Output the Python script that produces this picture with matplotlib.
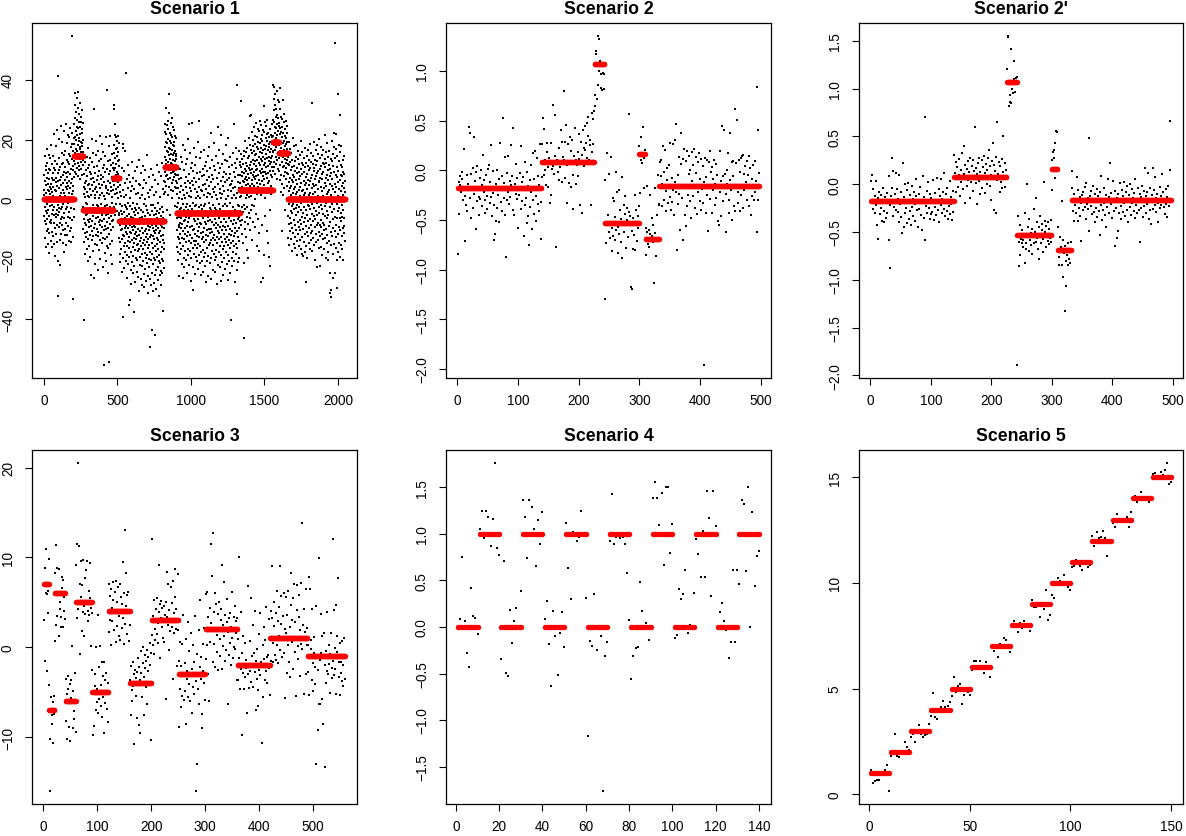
import numpy as np
import matplotlib
matplotlib.use('Agg')
import matplotlib.pyplot as plt

plt.rcParams['font.family'] = ['Liberation Sans', 'DejaVu Sans']

# ---------------- Scenario 1 ----------------
s1_means = [0, 14.64, -3.66, 7.32, -7.32, 10.98, -4.39, 3.29, 19.03, 15.37, 0]
s1_lengths = [205, 62, 205, 40, 308, 82, 430, 225, 41, 61, 389]
s1_y = [
    3.1, -5.4, 8.1, 1.5, -12.9, 6.2, -2.6, 14.5, -7.3, 0.5, 9.8, -15.9, 4.7, -3.9, 11.3, -8.2, 2.3, 16.8, -4.4, -10.6,
    7.2, -1.6, -6.4, 12.3, 5.3, -14.8, 0.3, 3.2, -9.7, 8.9, -3.5, 15.0, -11.2, 2.8, 6.8, -5.4, 10.1, -17.9, 1.7, 4.1,
    -7.6, 13.9, -2.3, 9.9, -13.9, 5.3, -6.7, 0.5, 18.1, -8.0, 3.5, -4.8, 7.2, -16.0, 11.9, -1.7, 2.4, -10.9, 6.4, 14.4,
    -3.5, 8.9, -12.2, 1.3, 4.0, -7.7, 21.8, -5.1, 10.6, -2.4, -15.0, 6.6, 0.2, 9.8, -9.6, 3.2, -19.0, 12.8, -4.9, 5.9,
    2.8, -11.6, 7.2, 17.8, -6.0, 0.3, -3.4, 11.8, -14.2, 4.5, 23.3, -8.4, -32.2, -5.1, 41.1, -1.7, 6.0, -20.6, 8.7, -2.9,
    9.7, -4.1, 13.8, -9.2, 3.8, 20.1, -7.8, 1.2, -21.8, 6.4, -13.5, 10.9, 2.0, -6.4, 24.5, -3.2, 7.6, -11.6, 4.9, 15.6,
    -8.6, 0.2, 11.7, -5.7, 19.2, -2.4, 8.0, -14.6, 3.3, 12.0, -10.3, 5.5, -1.4, 22.7, -6.1, 9.3, -17.4, 2.2, 14.7, -4.4,
    6.5, -9.9, 1.2, 16.3, -12.0, 10.9, -3.3, 4.3, 25.2, -7.7, 0.1, 8.8, -15.3, 13.0, -2.5, 5.4, 18.9, -11.8, 3.6, 7.5,
    -5.8, 12.4, 21.6, -1.1, 9.3, -8.7, 4.4, 15.2, -13.7, 2.2, 11.8, -4.3, 6.1, 20.9, -10.5, 0.6, 14.4, -6.3, 23.8, 3.8,
    8.6, -2.7, 17.4, -9.5, 5.4, 10.2, -14.1, 1.8, 13.6, 22.3, 54.5, -7.0, 6.9, 18.5, -33.1, 4.6, 9.9, -12.5, 16.1, 2.7,
    11.2, -5.8, 20.4, 7.6, -3.3,
    18.6, 25.2, 12.9, 31.4, 9.3, 20.8, 15.5, 27.1, 11.7, 35.6, 17.0, 22.9, 8.4, 29.2, 14.6, 19.9, 24.3, 10.5, 33.7, 16.2,
    21.4, 13.8, 26.5, 7.9, 18.1, 30.6, 12.3, 23.7, 15.2, 36.0, 19.5, 9.8, 25.9, 14.1, 28.4, 11.2, 20.6, 17.5, 32.3, 6.7,
    16.9, 24.1, 13.4, 21.7, 27.6, 10.2, 19.3, 15.8, 26.0, 12.6, 22.2, 18.8, 14.5, 29.9, 8.1, 23.4, 17.7, 20.0, 11.4, 25.5,
    15.9, 13.1,
    -2.4, -9.8, 4.2, -14.3, 1.9, -6.6, 8.5, -40.1, -3.7, 12.4, -11.2, 0.8, 5.6, -7.9, -18.3, 3.5, -1.2, 9.7, -12.6, -5.1,
    6.3, -8.5, 14.1, -4.9, -16.4, 2.6, -10.7, 7.8, -1.5, -13.2, 10.4, -6.9, 1.1, -20.5, 4.8, 17.2, -9.3, -3.1, 11.6, -7.4,
    0.9, -15.6, 5.2, -2.8, 9.1, -11.7, 3.4, -19.2, -6.5, 13.7, -4.1, 8.6, -25.3, 1.5, -8.8, 6.9, -13.6, 20.3, -3.2, -10.4,
    4.7, -7.1, 12.5, -1.8, -17.2, 7.3, -5.6, 2.9, 15.4, -12.1, -2.7, 30.2, -9.5, 5.8, -26.1, -4.3, 10.9, -14.8, 0.4, 3.6,
    -8.2, 8.7, -21.4, 1.6, -6.2, 14.8, -11.9, 4.3, -3.5, 19.6, -15.1, 6.4, -1.9, -9.7, 11.1, -4.6, 2.5, -23.7, 7.7, -12.3,
    -5.9, 16.2, -2.1, -10.8, 9.4, -7.5, 0.6, -16.9, 5.1, -3.8, 12.9, -13.4, 3.7, -6.8, 21.3, -8.6, 1.4, -19.8, 8.2, -4.5,
    -11.3, 6.7, -1.6, 13.5, -9.1, 2.2, -14.7, 18.4, -5.2, 4.9, -7.3, -22.5, 10.6, -2.9, -12.8, 7.4, -4.2, 15.7, -10.1, 1.3,
    -6.4, 11.5, -55.2, -3.6, 5.7, -17.8, 9.2, -8.9, 0.3, -13.1, 14.6, -2.2, -20.7, 4.4, -9.9, 20.8, -5.3, 3.9, -15.5, 36.4,
    2.1, -7.6, 10.3, -12.4, -1.7, 6.2, -4.8, -24.6, 12.7, -9.4, 3.3, -16.1, -54.3, 8.4, -3.4, 17.9, -11.5, 1.7, -6.3, 13.2,
    -14.9, 5.5, -2.6, 9.6, -8.3, 21.1, -5.4, -18.7, 2.7, 11.4, -10.2, 4.1, -1.3, -21.6, 7.5, 15.3, -7.2, 0.7, -13.8, 6.1,
    -3.9, 10.5, -9.2, 3.1, -6.7,
    12.3, 31.6, 4.8, 18.2, -2.5, 30.1, 9.7, 15.4, 1.9, 21.5, 7.3, 13.8, -5.1, 10.6, 25.2, 3.4, 16.7, 8.1, 20.9, -1.4,
    11.8, 6.2, 14.5, 2.3, 19.6, 9.1, -3.7, 17.3, 5.9, 12.8, 21.2, 0.6, 8.4, 15.9, 4.2, 11.1, 18.8, 6.5, 13.3, -4.6,
    -5.3, -12.7, 2.4, -18.1, -8.6, 4.9, -14.2, -1.5, -20.8, -6.4, 7.6, -10.1, -3.9, -16.5, 1.2, -9.8, -24.3, -4.7, 10.5, -13.2,
    -7.8, -2.1, -19.6, 3.3, 18.4, -11.9, -39.2, -6.6, 17.1, -15.4, -8.2, 0.7, -22.9, -4.3, 9.5, -12.1, -17.7, -1.8, -9.4, 5.6,
    -14.5, -6.2, 16.3, -10.8, -2.6, -20.4, 42.1, -8.9, 1.4, -15.7, -5.5, -26.3, -11.4, 6.8, -3.1, -18.6, -7.2, 11.6, -13.9, -1.3,
    -21.5, -9.6, 3.7, -16.2, -4.8, -12.4, 8.3, -35.2, -6.9, -19.3, 0.5, -10.7, -33.4, -2.3, -14.1, 5.9, -8.5, -23.6, -11.1, 2.8,
    -17.4, -5.7, -28.2, -9.1, 12.6, -13.5, -3.3, -20.9, -7.6, 4.5, -15.8, -1.1, -24.7, -10.3, 7.2, -18.9, -6.1, -12.8, -37.5, -4.2,
    3.6, -14.4, -8.7, -22.1, -2.9, -11.6, 9.4, -16.8, -5.2, -27.5, -9.3, 1.8, -13.3, -19.7, -3.5, 6.1, -10.9, -24.2, -7.3, -15.1,
    -1.6, -12.2, 10.7, -20.3, -6.5, -9.9, -25.8, 2.3, -14.9, -4.4, -17.2, 5.3, -11.8, -30.4, -8.1, -2.7, 13.2, -16.6, -6.3, -21.9,
    -10.5, 0.4, -13.7, -19.1, 4.7, -7.4, -26.6, -3.6, -15.5, 8.8, -12.9, -22.3, -5.8, -9.5, 1.5, -18.2, -28.7, -6.8, 11.3, -14.6,
    -4.1, -20.5, -11.3, 3.9, -16.4, -8.3, -24.9, -1.4, -13.6, 6.6, -29.3, -7.7, -17.9, 0.2, -10.4, -23.1, 9.8, -5.6, -15.2, -19.4,
    -2.2, -12.5, -27.1, 5.4, -9.7, -18.5, -6.7, -14.3, 14.9, -21.2, -3.4, -11.5, -25.6, -8.8, 2.1, -16.3, -31.2, -4.6, -13.1, 7.5,
    -19.8, -7.5, -10.2, 0.9, -22.6, -15.3, -5.1, -26.4, 3.2, -12.6, -49.4, -9.2, -17.6, -1.7, -28.5, -6.4, 10.3, -20.1, -11.7, -43.5,
    -14.7, -3.8, -24.4, -8.4, 4.3, -18.3, -12.3, -30.7, -1.9, -16.1, -9.6, 8.2, -21.7, -5.3, -27.9, -13.2, 1.6, -10.6, -19.5, -7.1,
    -25.2, -2.8, -15.6, -11.2, 6.4, -45.1, -20.2, -8.7, -4.9, -17.3, -29.8, -10.1, 2.6, -23.4, -6.2, -14.8, 11.5, -19.2, -3.7, -12.7,
    -26.8, -9.4, -1.2, -16.7, -22.4, 5.2, -13.4, -7.9, -20.6, -32.3, -4.5, -11.3, 9.1, -18.7, -25.1, -6.6, -14.2, 0.8, -21.3, -10.4,
    -3.1, -17.5, -28.4, 7.9, -12.2, -8.5, -23.8, -5.4, 12.3, -15.9, -19.9, -2.4, -9.3, -24.5, -37.2, -6.3, 3.5, -13.5, -20.7, -11.9,
    -4.3, -16.6, 6.3, -9.6, -22.8, 1.7, -7.4, -14.5,
    14.3, 5.8, 22.4, 9.1, 17.6, 2.5, 25.3, 11.9, 19.2, 7.7, 30.4, 13.1, 4.6, 21.8, 16.3, 10.5, 24.7, 8.2, 18.9, -3.4,
    12.6, 26.2, 6.9, 20.3, 15.8, 1.4, 23.5, 11.2, 35.3, 9.7, 17.1, 4.3, 28.8, 14.9, 7.2, 19.5, 13.6, 22.1, -5.2, 16.8,
    10.4, 25.6, 3.3, 18.7, 12.1, 8.9, 21.5, 15.2, 5.4, 27.3, 11.8, 16.5, 0.6, 20.9, 9.2, 14.7, 24.1, 6.4, 13.3, 18.2,
    2.9, 19.1, 11.4, 7.6, 23.2, 15.6, 9.5, 17.9, 4.1, 12.7, 21.3, 8.6, -2.3, 16.1, 10.9, 14.4, 6.1, 20.5, 3.8, 13.5,
    8.3, 15.1,
    -2.6, -10.2, 5.4, -15.8, -6.3, 1.9, -20.1, -4.7, 8.2, -12.5, -1.3, -17.6, 3.8, -8.4, -25.5, 0.6, -13.2, 6.7, -5.9, -9.3,
    10.1, -14.6, -3.2, -7.8, 2.4, -18.3, -11.5, 4.6, -6.1, 14.3, -16.7, -2.9, -9.5, 7.3, -21.4, -5.2, 0.3, -12.8, 12.6, -8.3,
    -26.1, -1.5, -15.4, 3.1, -10.6, 18.2, -4.9, -19.5, 1.6, -7.2, 9.8, -13.3, -3.6, -22.7, 5.5, -11.4, -6.8, 16.5, -17.1, 0.4,
    -9.6, 4.3, -14.2, -2.5, 11.8, -20.3, -5.7, 7.6, -12.1, 2.2, -24.4, -8.9, 13.4, -1.6, -16.5, 6.3, -10.8, -3.4, 20.2, -18.6,
    -7.5, 1.1, 25.1, -13.7, -4.2, 8.5, -21.8, -6.2, 3.7, -11.9, 15.4, -2.3, -17.3, 5.6, -9.2, -27.3, 0.9, -14.5, 10.6, -5.6,
    -19.4, 2.7, -8.8, 12.2, 25.4, -12.7, -3.3, 6.2, -16.1, -30.2, -1.2, 9.5, -10.3, -22.6, 4.8, -6.6, -13.9, 17.3, -4.8, -18.2,
    7.1, -9.7, -2.2, -15.2, 3.5, -24.8, -7.3, 11.4, -11.6, 0.5, -19.1, 5.7, -5.3, -13.8, 14.2, -1.9, -20.7, -8.2, 2.6, -12.3,
    8.7, -16.3, -3.7, 19.1, -10.5, -6.4, -23.2, 1.3, -14.8, 4.1, -2.6, 26.2, -18.4, -9.1, 6.8, -12.6, -4.5, 13.7, -21.3, -7.7,
    0.5, -15.7, 9.2, -11.3, -1.8, -17.5, 3.3, -25.2, -8.3, 15.8, -5.4, -13.1, 2.8, -20.4, 7.7, -3.1, -10.9, 10.2, -16.8, -24.1,
    -6.2, 4.7, -12.4, -2.1, 16.6, -19.3, -9.4, 1.5, -14.1, 8.3, -4.6, -22.2, 11.2, -7.6, -1.4, -17.8, 5.2, -11.7, -27.6, 3.6,
    -8.1, 12.5, -13.5, -3.9, -20.6, 6.5, -10.1, 0.7, -16.2, 9.6, -5.8, -25.7, 2.1, -12.2, 14.6, -7.1, -18.8, 4.4, -1.1, -9.9,
    -15.3, 7.4, -4.3, 17.6, -11.2, -21.1, 1.8, -6.7, 10.4, -14.4, -2.8, -19.6, 5.9, -9.8, 22.3, -13.6, -3.5, -26.5, 8.1, -7.4,
    -17.2, 0.8, -10.7, 13.1, -5.5, -12.9, 3.6, -23.5, -1.7, 6.9, -15.1, -8.6, 11.3, -18.1, -4.4, 2.5, -11.8, 18.7, -20.2, -6.5,
    4.2, -13.4, -2.7, -24.3, 9.7, -9.5, -16.9, 1.4, -7.8, 14.5, -19.2, -3.6, 7.2, -12.5, -28.3, -5.1, 0.2, -14.7, 12.3, -10.6,
    24.2, -8.5, -21.9, 5.3, -4.1, -11.2, 16.4, -17.7, -1.5, 8.7, -13.3, -6.2, 2.3, -22.5, 10.5, -9.3, -15.6, 3.4, -3.2, 21.6,
    -12.6, -7.5, 6.3, -18.5, -27.2, 0.6, -10.2, 11.7, -5.6, -14.3, 1.9, -20.8, 7.6, -2.2, -16.4, 15.1, -8.7, -25.3, 4.5, -11.6,
    -3.8, 9.2, -15.7, -6.4, 2.7, -19.5, 13.3, -9.1, -1.6, -13.2, 5.8, -23.3, -4.9, 8.5, -17.4, -10.3, 18.1, -7.6, 0.3, -14.2,
    -21.7, 6.6, -5.2, 12.8, -12.4, -2.3, -18.6, 3.2, -8.9, 20.4, -15.2, -26.8, 1.2, -11.4, 7.3, -6.1, -20.5, 10.8, -3.7, -13.6,
    4.9, -16.2, -9.8, 14.2, -1.3, -24.6, 8.4, -7.2, -14.6, 2.9, -11.8, -40.3, 5.1, -4.7, -19.4, 11.6, -10.4, 0.5, -22.1, 6.2,
    -13.8, -5.3, 15.5, -8.2, -17.7, 3.8, -2.5, -12.1, 9.3, 25.1, -20.6, -6.7, 1.6, -15.4, 12.2, -9.6, -27.4, 4.3, -3.6, -11.3,
    7.5, -18.2, -7.9, 17.2, 0.4, -14.8, -4.2, 10.6, 38.2, -23.6, -10.5, -31.4, 2.2, -16.3, 13.6, -6.6, -20.9, 5.7, -1.9, -12.4,
    8.1, -9.4, -19.7, 3.7, -5.8, 16.2, -13.7, -2.1, 11.5, -7.3,
    5.4, -3.8, 12.6, 0.7, 8.2, -8.5, 15.3, 3.9, -5.1, 10.8, 1.3, 32.7, -2.6, 7.9, -11.4, 4.2, 13.5, -6.7, 9.1, 2.6,
    -4.3, 11.7, 6.2, -14.5, 3.6, 16.1, -1.8, -46.3, 8.8, -21.2, 5.7, 14.4, -7.6, 2.1, 10.3, -3.3, 19.5, 6.9, -9.7, 12.2,
    0.4, 7.5, -12.6, 4.8, 15.9, 9.4, -5.7, 1.6, 17.3, -2.4, 6.4, 11.1, -16.8, 8.5, 3.2, -19.4, 13.8, 5.1, -8.3, 10.6,
    2.7, 20.4, -4.6, 7.1, 14.6, 0.9, 9.7, -10.2, 18.3, 4.5, 27.8, -6.1, 11.4, 3.7, 16.6, 28.3, 1.2, 8.9, -3.4, 12.5,
    6.6, 22.4, -1.7, 10.2, 15.5, -13.6, 5.3, 19.8, 8.1, 2.4, 13.1, -7.5, 17.7, 9.2, 4.6, 24.3, -2.2, 11.8, 7.4, 16.3,
    14.8, 0.3, 21.2, 6.7, -9.3, 12.7, 18.5, 3.4, 9.9, -4.8, 15.2, 25.6, 7.7, 11.3, -15.5, 20.7, 5.6, 13.2, 1.9, 17.4,
    10.3, 23.6, 4.1, -6.5, 16.8, 8.3, 19.2, 12.1, -11.3, 6.4, 22.8, 2.5, 14.3, -17.2, 9.6, 18.9, 11.6, 26.3, 5.2, 15.7,
    3.1, -27.4, 13.6, 20.3, 8.7, 17.2, 1.5, 24.9, 10.1, -8.6, 15.4, 6.3, 21.6, 12.9, 19.4, -26.2, 7.8, 16.5, 9.3, 23.1,
    14.2, 4.7, 31.3, 11.5, -18.4, 18.1, 6.8, 22.6, 13.4, 0.6, 25.7, 9.1, 16.9, -5.5, 12.3, 20.6, 8.4, 17.8, 3.6, 24.5,
    10.7, 15.1, -10.4, 21.9, 7.3, 13.7, 19.6, 2.1, 26.6, 11.2, 16.4, -14.6, 8.9, 22.2, 5.5, 18.4, 12.8, -19.3, 14.1, 20.8,
    6.2, 17.6, 23.4, 9.5, -3.6, 15.8, 11.9, -22.3, 19.1, 4.4, 13.9, 21.4, 8.2, 16.7, 1.8, 12.4, 25.3, 7.6, 18.6, 10.9,
    14.6, 3.3, 20.7, 9.4, 16.2,
    26.4, 15.7, 38.1, 21.3, 10.8, 33.6, 18.2, 25.9, 37.4, 12.5, 29.7, 22.1, 16.6, 35.2, 8.4, 24.3, 19.8, 31.5, 14.2, 27.6,
    20.4, 11.9, 30.3, 17.5, 23.8, 36.1, 13.3, 28.2, 18.9, 6.7, 25.1, 21.6, 33.2, 15.4, 22.7, 10.2, 27.3, 19.1, 32.6, 14.8, 24.5,
    18.3, 9.6, 25.4, 13.9, 30.2, 6.5, 21.7, 16.1, 37.3, 11.4, 23.8, 2.6, 19.2, 27.5, 14.7, 8.2, 22.6, 17.3, -10.4, 26.8,
    12.5, 20.9, 5.3, 24.2, 15.6, 33.1, 10.7, 18.8, 1.4, 22.3, 14.1, 28.6, 7.9, 19.5, 16.4, 11.2, 25.7, 3.8, 21.1, 13.4,
    17.8, 9.3, 23.5, 15.2, -3.6, 20.6, 12.1, 26.3, 6.8, 18.4, 14.9, 10.5, 22.2, 4.6, 16.7, 19.3, 8.8, 13.1, 24.6, 11.7, 15.5,
    8.4, -5.6, 14.2, -12.7, 2.9, 19.3, -8.1, 5.7, -1.4, 11.6, -15.2, 3.8, 7.3, -10.5, 16.9, 0.2, -6.3, 12.4, -3.7, 4.6,
    -13.1, 9.7, 1.5, -7.8, 15.4, -2.2, 6.6, -17.3, 10.8, -4.5, 13.1, -9.4, 2.3, 20.6, -11.2, 5.9, -1.6, 8.2, -14.8, 11.3,
    3.5, -6.9, 17.7, -3.1, 7.6, -12.4, 0.8, 12.9, -8.6, 4.2, -16.1, 9.5, -2.7, 14.3, -10.2, 1.7, 6.4, -5.3, 18.2, -13.8,
    5.1, -1.9, 10.4, -18.6, 2.5, 8.8, -7.4, 13.6, -4.2, -11.5, 16.3, 0.6, -9.1, 6.7, 11.9, -15.6, 3.2, -2.5, 9.3, -6.8,
    14.7, -10.3, 1.2, 7.9, -13.4, 4.3, -3.5, 19.6, -8.2, 10.1, -1.3, -16.4, 5.6, 12.2, -5.9, 2.8, -12.6, 8.5, -18.2, 15.8,
    -4.6, 3.3, 11.5, -9.9, 0.4, -18.9, 6.1, 13.8, -7.5, 1.6, -14.3, 9.2, -2.4, 17.1, -11.6, 4.8, -6.2, 10.7, -17.4, 2.1,
    7.4, -8.8, -27.6, 12.3, -3.6, 5.5, -15.7, 0.3, 14.6, -10.9, 3.4, -5.1, 8.6, -19.5, 11.2, -1.8, 6.5, -12.3, 16.4, -7.2,
    1.4, 9.8, -14.5, 4.7, -2.1, 13.3, -9.6, 18.4, -6.6, 2.2, -16.7, 10.6, -3.3, 6.2, -11.1, 15.5, 0.7, -8.4, 7.1, -13.5,
    12.6, -4.9, 32.2, 3.9, -10.6, 8.3, -1.5, -17.2, 11.8, 5.2, -7.3, 14.4, -12.8, 1.9, 9.6, -5.4, 19.2, -15.3, 4.4, -2.8,
    10.5, -9.2, 6.8, -20.3, 2.4, 13.2, -6.5, 0.9, 16.6, -11.4, 7.7, -3.8, -14.1, 11.4, 4.9, -8.6, 18.3, -1.2, -22.4, 8.8,
    -5.2, 12.7, 1.1, -13.6, 9.4, -7.7, 15.2, 3.6, -10.8, 6.3, -2.6, 20.1, -16.3, 5.8, -4.4, 10.3, -12.2, 0.5, 13.9, -8.5,
    -22.1, 7.2, -1.7, 11.3, -15.8, 4.1, -6.8, 17.4, -9.3, 2.7, 14.8, -11.5, 8.6, -3.2, -18.4, 6.9, 12.1, -7.8, 1.3, -13.3,
    9.1, -4.7, 16.4, -10.1, 3.7, -16.6, 11.9, 0.1, -8.5, 13.5, -2.3, 21.4, -12.9, 5.4, -5.5, 10.8, -19.7, 7.3, -1.1, 15.9,
    -9.8, 4.5, 12.3, -14.4, 1.8, -6.1, 18.7, -3.9, 8.2, -11.7, 2.6, -17.5, 14.1, -5.3, 9.8, -20.2, 6.4, 0.3, 11.6, -8.9,
    3.2, -13.7, 16.2, -24.5, 7.8, -2.4, -31.3, 10.3, -7.6, 5.2, -30.1, 13.4, -10.7, 1.5, -15.2, 8.7, -32.4, 4.6, -4.1, 12.9,
    -12.3, 19.4, -1.6, 6.7, -18.3, 11.1, -26.2, 3.6, -6.4, 15.3, -9.5, 22.1, 0.6, -14.9, 9.2, -3.3, 17.6, -24.7, 5.3, -10.6,
    13.8, -5.7, 2.4, 52.3, -16.2, 8.1, 21.9, -8.6, 4.3, -12.5, 16.7, -1.4, -20.3, 10.9, -6.2, 7.5, -29.4, 14.6, -3.8, 1.2,
    -11.6, 35.2, 5.9, -17.4, 9.5, -2.7, 18.2, -9.1, 3.4, -14.6, 12.8, -6.3, 6.6, -19.2, 28.1, 0.8, -10.2, 15.7, -4.5, 8.3,
    -15.3, 11.4, 2.9, -7.2, 17.8, -12.1, 4.6, -1.9, 10.7, -16.5, 7.9, -5.8, 13.3, -9.4, 1.6, -20.1, 9.2, -3.6, 5.5, -8.7,
    14.5, -6.3, 3.8, -11.2, 8.6, 0.4, -13.9, 6.2, 2.5,
]

# ---------------- Scenario 2 ----------------
s2_means = [-0.18, 0.08, 1.07, -0.53, 0.16, -0.69, -0.16]
s2_lengths = [138, 87, 17, 57, 10, 23, 165]
s2_y = [
    -0.84, -0.44, -0.12, -0.06, -0.15, -0.22, -0.09, -0.02, -0.3, -0.19, 0.21, -0.71, -0.26, -0.35, -0.05, -0.41, -0.14, -0.2, 0.44, 0.37,
    -0.28, -0.48, -0.04, -0.17, -0.38, 0.02, -0.24, 0.33, -0.11, -0.59, -0.02, -0.31, 0.04, -0.2, -0.27, -0.45, -0.08, -0.29, 0.0, -0.15,
    -0.36, 0.15, -0.22, -0.1, -0.43, -0.3, -0.05, -0.26, -0.39, 0.01, -0.18, 0.05, -0.33, -0.12, 0.25, -0.27, -0.46, -0.01, -0.23, -0.7,
    -0.35, -0.64, -0.14, -0.51, -0.38, 0.0, -0.25, -0.09, -0.52, 0.27, -0.19, -0.32, -0.06, -0.41, 0.53, -0.13, -0.28, -0.45, 0.13, -0.87,
    -0.03, -0.3, 0.14, -0.22, -0.34, -0.11, -0.27, -0.15, 0.25, -0.06, -0.4, 0.43, -0.19, -0.45, -0.14, -0.24, 0.06, -0.29, -0.08, -0.58,
    -0.17, -0.25, -0.03, -0.39, 0.24, -0.12, -0.31, -0.07, -0.66, -0.2, -0.35, 0.08, -0.28, -0.53, -0.02, -0.46, -0.16, -0.75, -0.1, -0.37,
    -0.22, 0.05, -0.59, 0.17, -0.3, -0.09, -0.44, 0.19, -0.26, -0.51, 0.12, -0.34, -0.06, -0.41, -0.15, 0.26, -0.32, -0.69,
    -0.07, 0.26, 0.53, -0.05, 0.42, 0.1, 0.0, -0.15, 0.18, 0.27, -0.17, 0.03, 0.12, -0.33, 0.08, 0.27, -0.25, 0.01, 0.66, 0.04,
    -0.04, 0.56, 0.14, -0.77, 0.09, 0.1, -0.02, 0.06, 0.22, -0.1, 0.03, 0.4, 0.09, -0.12, 0.28, 0.13, 0.8, 0.1, -0.08, 0.28,
    0.46, 0.05, -0.33, 0.26, 0.08, -0.13, 0.33, 0.09, 0.19, -0.17, 0.3, -0.05, -0.39, 0.14, 0.06, 0.43, -0.14, 0.1, 0.05, 0.18,
    -0.06, 0.11, 0.36, -0.35, 0.08, 0.28, -0.43, 0.15, 0.4, 0.22, 0.04, 0.45, 0.2, 0.27, 0.12, 0.48, 0.34, 0.54, 0.1, 0.25,
    0.3, -0.35, 0.58, 0.18, 0.52, 0.26, 0.6,
    0.65, 0.76, 1.17, 1.2, 0.72, 1.35, 0.86, 1.32, 1.0, 1.1, 0.83, 0.97, 0.81, 1.06, 0.98, 0.82, 0.97,
    -0.1, -1.3, -0.73, 0.17, -0.52, -0.45, -0.62, -0.04, -0.55, -0.68, 0.13, -0.58, -0.81, -0.28, -0.66, -0.31, -0.47, -0.7, -0.02, -0.6,
    -0.22, -0.83, -0.57, -0.2, -0.64, -0.4, -0.72, -0.49, -0.07, -0.88, -0.55, -0.35, -0.62, -0.26, -0.44, -0.78, -0.5, -0.38, -0.67, -0.42,
    0.57, -0.55, -0.46, -1.18, -0.61, -1.2, -0.79, -0.48, -0.65, -0.25, -0.8, -0.52, -0.4, -0.71, -0.58, -0.46, -0.36,
    0.24, -0.23, 0.1, 0.33, 0.07, 0.15, 0.44, -0.18, 0.12, 0.2,
    -0.58, -0.85, -0.62, -0.16, -0.74, -0.77, -0.6, -0.64, -0.25, -0.7, -0.48, -0.66, -0.72, -0.55, -1.14, -0.63, -0.18, -0.86, -0.68, -0.45, -0.7, -0.05, -0.35,
    -0.34, 0.08, -0.06, 0.1, -0.36, -0.14, 0.24, -0.02, -0.3, 0.2, -0.21, -0.41, -0.1, 0.02, -0.33, -0.18, 0.05, -0.27, 0.27, -0.4,
    -0.08, -0.32, 0.26, -0.2, -0.45, 0.3, -0.12, 0.47, -0.22, -0.8, -0.05, -0.34, 0.13, -0.24, -0.6, 0.06, 0.37, -0.28, -0.7, 0.11,
    -0.15, 0.21, -0.45, -0.56, 0.09, -0.36, 0.19, -0.25, -0.04, 0.14, -0.31, 0.0, -0.48, 0.18, -0.11, -0.26, 0.05, 0.21, -0.38, -0.17,
    0.13, -0.03, -0.44, 0.08, -0.22, 0.17, -0.31, -0.09, -0.4, 0.11, -0.19, 0.04, -0.33, -1.96, -0.12, 0.12, -0.43, -0.07, 0.1, -0.25,
    -0.61, 0.08, -0.16, 0.19, -0.29, -0.02, -0.43, 0.03, -0.2, -0.09, 0.1, -0.35, -0.14, -0.28, 0.06, -0.05, -0.18, -0.51, -0.55, 0.19,
    -0.22, -0.11, -0.46, 0.45, -0.06, -0.31, 0.4, -0.16, -0.04, -0.62, -0.24, 0.0, -0.14, 0.17, -0.43, -0.3, 0.37, -0.1, -0.2, -0.5,
    0.08, -0.06, 0.09, -0.36, -0.41, 0.62, 0.07, -0.17, 0.51, -0.22, -0.33, 0.1, -0.02, -0.41, 0.12, -0.25, 0.14, -0.38, 0.15, -0.04,
    -0.2, 0.04, -0.17, -0.12, 0.09, -0.3, -0.05, 0.14, -0.36, -0.18, 0.02, -0.45, -0.09, -0.26, 0.05, -0.15, -0.3, 0.09, -0.22, -0.11,
    -0.62, 0.84, 0.4, -0.3, -0.03,
]

# ---------------- Scenario 2' ----------------
s2b_means = [-0.18, 0.08, 1.07, -0.53, 0.16, -0.69, -0.16]
s2b_lengths = [138, 87, 17, 57, 10, 23, 165]
s2b_y = [
    0.03, 0.1, -0.16, -0.26, -0.05, -0.18, -0.12, -0.3, -0.22, 0.03, -0.43, -0.57, -0.14, -0.08, -0.2, -0.31, -0.11, -0.25, -0.38, -0.16,
    -0.04, -0.28, -0.39, -0.13, -0.2, -0.35, -0.09, -0.3, -0.17, -0.58, 0.09, -0.22, -0.88, -0.12, 0.28, -0.04, -0.33, 0.14, -0.24, -0.1,
    -0.18, -0.27, 0.12, -0.05, -0.29, -0.15, -0.4, 0.1, -0.21, -0.34, -0.08, -0.51, -0.2, 0.22, -0.45, -0.13, -0.3, 0.0, -0.25, -0.41,
    -0.06, 0.01, -0.19, -0.36, -0.11, -0.28, -0.43, -0.02, -0.24, -0.15, -0.33, -0.08, -0.21, -0.38, -0.12, 0.05, -0.27, -0.17, -0.45, -0.1,
    -0.26, -0.03, -0.32, -0.16, -0.48, -0.2, 0.09, -0.35, -0.13, 0.7, -0.58, -0.23, -0.07, -0.3, -0.18, 0.02, -0.25, -0.36, -0.1, -0.31,
    -0.14, -0.29, 0.04, -0.2, -0.37, -0.09, -0.24, -0.16, -0.32, 0.07, -0.19, -0.27, -0.05, -0.39, -0.12, -0.22, 0.05, -0.3, -0.15, -0.08,
    -0.26, 0.12, -0.2, -0.33, -0.1, -0.28, -0.04, -0.36, -0.17, -0.23, 0.03, -0.31, -0.13, -0.21, -0.37, -0.07, -0.29, -0.16,
    0.31, 0.12, -0.08, 0.23, 0.05, 0.18, -0.03, 0.1, 0.26, -0.12, 0.15, 0.02, 0.33, 0.07, -0.05, 0.4, 0.11, 0.2, -0.2, 0.08,
    0.16, -0.02, 0.24, 0.04, 0.13, -0.14, 0.27, 0.09, 0.02, 0.19, -0.07, 0.25, 0.06, 0.14, 0.6, 0.01, 0.17, -0.21, 0.11, 0.22,
    0.03, 0.28, -0.1, 0.13, 0.09, 0.25, -0.04, 0.18, 0.06, 0.3, 0.12, -0.09, 0.21, 0.0, 0.15, 0.27, 0.05, 0.36, -0.02, 0.19,
    0.1, -0.16, 0.24, 0.43, 0.07, 0.2, -0.27, 0.14, -0.3, 0.29, 0.04, 0.65, 0.11, 0.23, 0.08, -0.08, 0.19, 0.02, 0.26, -0.04,
    0.13, 0.51, 0.09, 0.22, -0.03, 0.15, 0.07,
    1.21, 1.55, 1.54, 0.82, 0.86, 0.93, 1.42, 0.85, 1.0, 0.95, 1.08, 1.29, 1.1, 0.97, 1.11, 1.06, 1.12,
    -1.89, -0.33, -0.6, -0.86, -0.43, -0.74, -0.57, -0.62, -0.48, -0.66, -0.58, -0.52, -0.82, -0.3, -0.61, -0.68, 0.0, -0.55, -0.45, -0.36,
    -0.7, -0.58, -0.64, -0.51, -0.47, -0.73, -0.55, -0.26, -0.62, -0.5, -0.6, -0.14, -0.39, -0.56, -0.68, -0.45, -0.78, -0.53, -0.33, -0.61,
    -0.48, -0.42, -0.57, -0.71, 0.02, -0.5, -0.38, -0.66, -0.44, -0.52, -0.59, -0.4, -0.63, -0.47, -0.56, -0.37, -0.6,
    -0.06, 0.25, 0.34, 0.36, 0.27, 0.43, 0.07, 0.56, 0.55, 0.16,
    -0.45, -0.76, -0.85, -0.68, -0.55, -0.66, -0.85, -0.17, -0.97, -0.58, -0.72, -1.33, -0.65, -1.07, -0.8, -0.74, -0.62, -0.84, -0.69, -0.78, -0.82, -0.6, -0.71,
    0.14, -0.04, -0.28, -0.38, -0.1, -0.22, -0.15, -0.3, 0.08, -0.19, -0.38, -0.06, -0.25, -0.13, -0.33, -0.2, -0.59, -0.11, -0.27, -0.08,
    -0.17, -0.24, -0.03, -0.36, 0.01, -0.21, -0.26, -0.14, 0.48, -0.49, -0.12, -0.23, -0.07, -0.31, -0.18, -0.02, -0.29, -0.16, -0.4, -0.1,
    -0.25, -0.05, -0.34, -0.19, -0.12, -0.28, -0.53, -0.08, -0.22, 0.09, -0.37, -0.15, -0.27, -0.04, -0.2, -0.32, -0.11, -0.45, -0.17, -0.24,
    0.06, -0.3, -0.13, 0.22, -0.21, -0.09, -0.35, -0.16, 0.03, -0.28, -0.19, -0.65, -0.07, -0.25, -0.14, -0.56, -0.1, -0.49, -0.3, 0.01,
    -0.18, -0.23, -0.36, -0.06, -0.29, -0.12, -0.2, 0.02, -0.33, -0.15, -0.08, -0.27, -0.02, -0.39, -0.17, -0.11, 0.0, -0.24, -0.32, -0.05,
    -0.2, -0.14, -0.28, -0.09, -0.35, 0.05, -0.22, -0.16, -0.3, -0.04, -0.19, -0.27, -0.1, -0.6, -0.13, -0.25, -0.02, -0.34, -0.18, -0.07,
    -0.23, 0.17, -0.12, -0.3, -0.08, -0.21, 0.12, -0.15, -0.36, -0.04, -0.27, -0.42, -0.11, -0.19, 0.17, -0.26, -0.06, -0.22, 0.08, -0.14,
    -0.29, -0.1, -0.2, -0.4, -0.17, -0.03, -0.25, -0.12, -0.22, 0.11, -0.18, -0.08, -0.24, -0.15, -0.31, -0.05, -0.21, -0.13, -0.34, -0.02,
    -0.19, -0.23, 0.66, 0.15, -0.16,
]

# ---------------- Scenario 3 ----------------
s3_means = [7, -7, 6, -6, 5, -5, 4, -4, 3, -3, 2, -2, 1, -1]
s3_lengths = [10, 10, 20, 20, 30, 30, 40, 40, 50, 50, 60, 60, 70, 70]
s3_y = [
    3.0, 8.8, -1.5, 6.0, 10.9, 5.9, -2.7, 3.8, 6.3, 9.8,
    -4.2, -16.0, -10.2, -5.5, -7.6, -8.6, -10.7, -6.1, -7.4, -5.4,
    0.7, 8.3, 2.5, 11.4, 8.8, 3.5, 6.1, 1.3, 8.7, 5.0, 4.3, 2.2, 3.4, 6.6, 7.8, 7.5, 2.3, 4.0, 5.6, 3.1,
    -3.5, -8.2, -5.2, -10.2, -4.6, -3.2, -8.9, -6.2, -4.1, -10.4, -5.7, -3.7, 0.1, -9.0, -4.9, -7.1, -8.0, -2.9, -5.9, -9.4,
    9.1, 11.5, 3.3, 20.5, 4.2, 11.3, 7.0, -0.8, 9.6, 5.6, 1.8, 6.9, 3.9, 9.7, 1.3, 4.6, 7.7, 3.7, 8.6, 5.2,
    9.6, 2.9, 4.0, 6.3, 3.6, 9.4, 5.5, 0.1, 4.4, 3.8,
    -2.5, -9.8, -8.8, -5.2, -3.0, -4.3, -7.0, 0.0, -6.1, -4.6, 3.6, -7.3, -2.2, -5.8, 0.1, -6.6, -4.2, -1.7, -7.8, -3.2,
    -5.5, -1.6, -9.6, -6.2, -3.7, -2.9, -5.0, -6.9, -4.0, -8.3,
    1.7, 7.0, 3.0, 5.7, 6.5, 0.3, 4.4, 2.9, 7.3, 5.3, 1.9, 6.1, 3.8, 7.4, 0.6, 5.0, 2.4, 6.7, 4.1, 1.2,
    3.5, 7.0, 0.8, 5.6, 2.1, 4.8, 9.5, 3.3, 0.4, 6.0, 13.1, 2.6, 4.6, 8.3, 1.5, 5.8, 6.2, 0.7, 3.9, 2.5,
    -3.6, -7.5, -2.1, -4.8, -6.0, -1.6, -4.3, -3.0, -10.8, -2.5, -5.4, -3.4, -7.9, -2.8, -1.2, -4.0, -8.7, -2.2, -3.7, -9.6,
    -0.4, -2.9, -5.6, -1.8, 0.0, -3.3, -7.5, -2.3, -0.9, -4.4, -1.5, -6.3, -0.3, -2.6, -1.1, -3.9, 0.5, -2.0, -0.7, -10.3,
    12.0, 1.4, 0.3, 3.5, -0.8, 5.3, 2.0, 0.8, 4.2, 1.5, 5.5, 2.7, 0.5, 9.1, 3.9, 4.8, -1.2, 3.2, 5.1, 2.2,
    4.4, 1.0, 0.6, 4.6, 3.6, 2.9, -5.8, 5.0, 3.4, 8.4, 7.0, 2.5, 4.1, -0.3, 1.8, 3.0, 6.7, 4.9, 2.3, -3.5,
    7.4, 1.6, 3.8, 5.6, 8.7, 2.0, 4.2, -2.1, 1.9, 8.1,
    -8.9, -1.5, 0.6, -4.6, -2.1, -6.7, 0.4, -5.4, -3.0, 3.6, -5.9, -1.8, -4.9, 0.9, -8.5, -3.5, -2.7, -5.6, 2.8, -4.1,
    -0.4, -6.0, -3.2, 1.6, -2.4, -7.3, -4.4, 0.2, -1.6, -5.2, 3.5, -2.9, -3.8, -16.0, -13.0, -0.8, -4.7, 1.9, -6.3, -2.2,
    5.3, -3.5, -1.1, -7.4, -9.0, -2.6, 0.4, -4.0, 2.1, -5.9,
    -1.3, 5.9, 0.2, 6.1, 3.4, -3.0, 1.8, -6.0, 4.4, 0.6, 11.5, 2.7, 7.9, -1.7, 12.7, 3.9, 0.4, 6.0, -2.2, 2.1,
    4.8, -0.5, 1.4, 3.7, -2.5, 5.0, 0.9, -1.0, 3.0, 4.2, 9.1, -2.4, 2.5, 0.1, 7.3, 1.2, -1.5, 3.6, -0.3, 2.8,
    5.4, -6.3, 1.7, 3.3, -0.9, 0.5, 3.8, -2.0, 2.3, 6.2, 1.0, -1.2, 3.4, 0.0, 4.6, -0.2, 2.9, 1.6, -3.7, 3.2,
    -3.7, 0.9, -1.2, 10.0, -4.7, -2.4, 3.9, -9.8, -0.6, -2.9, 1.2, -4.6, -2.0, 0.5, -3.3, -1.4, -2.3, -7.3, 6.8, -3.0,
    -1.9, -4.5, 0.7, -2.6, 5.5, -3.9, -1.0, -2.2, -4.4, 2.5, -0.7, 4.0, -2.8, -7.0, -1.5, -3.5, -0.2, -4.8, -6.6, -2.5,
    1.5, -3.1, 3.8, -1.7, -10.7, -2.1, 0.2, -5.6, -1.3, 2.2, -3.6, 0.8, -2.7, 4.5, -1.1, -4.0, -0.9, 3.1, -2.3, -5.3,
    1.1, 4.0, -1.5, 9.0, 3.2, 0.5, -1.7, 5.0, 2.4, -0.9, 3.8, -1.4, 6.3, 0.2, 2.9, -1.8, 4.5, 1.3, 9.0, -0.3,
    2.6, 5.7, -1.1, 0.8, 3.5, 6.0, -0.6, 2.0, -5.7, 1.6, 5.6, -2.9, 3.6, 0.3, 6.3, -1.6, 2.2, -3.3, 4.7, 8.3,
    0.6, 3.0, -2.4, 5.5, 1.0, 7.0, -0.5, 2.8, -5.4, 4.1, 6.9, 0.1, -1.3, 3.4, 5.8, -3.2, 1.9, 7.1, 0.4, -0.2,
    13.8, 2.5, -5.2, 4.3, 1.7, 0.9, 6.5, -3.0, 2.1, 0.2,
    0.3, -2.8, 7.8, -5.3, 6.5, 0.8, -0.2, -3.6, 4.2, -1.8, -4.9, -0.6, 1.1, -2.2, -4.1, -13.0, 4.6, -0.9, -9.2, -2.5,
    9.9, -6.3, -1.4, -6.3, 3.7, -0.7, 1.2, -5.8, -8.5, -1.0, 1.6, -13.3, -2.0, -0.4, -4.0, 3.9, -2.7, -1.2, -3.0, 0.2,
    -1.9, -5.1, -0.8, 1.6, -3.4, -2.3, 12.0, -1.5, -3.1, 4.1, -0.1, -2.4, 4.7, -5.2, 1.3, -0.5, 7.7, -3.3, -1.7, -5.3,
    0.5, -2.9, -1.6, -3.8, 0.7, -4.3, -2.0, 1.0, -1.0, -3.5,
]

# ---------------- Scenario 4 ----------------
s4_means = [0, 1, 0, 1, 0, 1, 0, 1, 0, 1, 0, 1, 0, 1]
s4_lengths = [10] * 14
s4_y = [
    -0.02, 0.09, 0.75, 0.06, -0.28, -0.43, 0.42, 0.12, 0.1, -0.07,
    1.05, 1.25, 0.96, 1.25, 1.18, 0.87, 1.16, 1.76, 0.85, 0.77,
    -0.34, 0.71, -0.49, -0.53, 0.18, -0.17, 0.06, 0.2, 0.0, 0.39,
    1.36, 1.18, 0.74, 1.36, 1.29, 1.05, 0.65, 1.15, 0.89, 1.24,
    0.09, 0.28, -0.18, -0.63, 0.17, -0.1, -0.52, -0.06, 0.16, -0.21,
    1.12, 0.63, 0.3, 1.02, 1.0, 0.92, 0.97, 1.25, 0.98, 0.31,
    -1.17, -0.15, -0.2, 0.35, -0.25, -0.02, -0.1, -1.76, -0.31, -0.16,
    0.92, 1.43, 0.89, 0.97, 0.98, 0.96, 0.97, 0.89, 0.58, 0.07,
    -0.56, -0.31, -0.23, -0.21, 0.48, 0.17, 0.0, 0.04, -0.14, 0.0,
    1.38, 1.56, 1.38, 1.1, 1.44, 0.67, 1.5, 1.5, 0.8, 1.11,
    -0.12, -0.09, 0.41, 0.3, 0.35, 0.61, -0.06, 0.02, 0.0, 0.37,
    0.94, 0.78, 0.54, 1.03, 0.54, 1.46, 1.17, 0.33, 1.46, 1.08,
    -0.02, 0.16, 0.26, 0.06, -0.03, -0.33, -0.16, 0.61, -0.16, 0.61,
    0.46, 1.36, 1.32, 0.6, 1.5, -0.0, 1.23, 0.44, 0.76, 0.82,
]

# ---------------- Scenario 5 ----------------
s5_means = list(range(1, 16))
s5_lengths = [10] * 15
s5_y = [
    1.13, 0.54, 0.61, 0.66, 0.66, 0.9, 0.98, 1.17, 1.37, 0.16,
    1.81, 2.05, 2.87, 1.81, 1.76, 1.95, 1.89, 2.47, 2.24, 2.08,
    2.71, 2.87, 2.47, 2.91, 3.26, 2.87, 2.71, 2.79, 2.87, 3.34,
    3.7, 4.79, 3.65, 3.57, 3.89, 4.13, 4.41, 4.13, 4.17, 4.36,
    4.63, 5.54, 4.83, 5.1, 5.2, 4.28, 4.71, 4.99, 4.83, 4.68,
    5.89, 6.3, 6.3, 6.02, 6.3, 5.94, 5.73, 6.25, 5.94, 5.57,
    6.95, 6.8, 7.05, 6.49, 7.12, 7.0, 7.4, 7.32, 6.9, 6.71,
    8.06, 8.22, 8.0, 7.67, 8.1, 7.86, 8.19, 7.98, 8.05, 7.72,
    9.2, 8.88, 8.88, 8.9, 8.38, 9.05, 8.77, 9.67, 8.25, 8.5,
    9.45, 9.28, 10.0, 10.24, 10.1, 10.05, 10.38, 9.95, 9.83, 9.67,
    10.77, 10.82, 11.1, 10.98, 10.82, 10.61, 10.93, 10.98, 10.77, 10.87,
    12.2, 11.73, 12.43, 12.13, 12.19, 12.47, 12.13, 11.26, 12.0, 12.05,
    12.82, 12.66, 13.26, 12.98, 12.87, 12.91, 12.98, 13.1, 12.63, 13.34,
    14.05, 14.13, 13.81, 14.0, 14.28, 13.92, 13.97, 13.92, 13.81, 13.95,
    15.15, 15.2, 15.07, 15.0, 15.23, 15.12, 15.34, 15.67, 14.68, 14.76,
]

titles = ["Scenario 1", "Scenario 2", "Scenario 2'", "Scenario 3", "Scenario 4", "Scenario 5"]
xtick_sets = [
    [0, 500, 1000, 1500, 2000],
    [0, 100, 200, 300, 400, 500],
    [0, 100, 200, 300, 400, 500],
    [0, 100, 200, 300, 400, 500],
    [0, 20, 40, 60, 80, 100, 120, 140],
    [0, 50, 100, 150],
]
ytick_sets = [
    [-40, -20, 0, 20, 40],
    [-2.0, -1.5, -1.0, -0.5, 0.0, 0.5, 1.0],
    [-2.0, -1.5, -1.0, -0.5, 0.0, 0.5, 1.0, 1.5],
    [-10, 0, 10, 20],
    [-1.5, -1.0, -0.5, 0.0, 0.5, 1.0, 1.5],
    [0, 5, 10, 15],
]
yfmts = ["{:.0f}", "{:.1f}", "{:.1f}", "{:.0f}", "{:.1f}", "{:.0f}"]
series = [
    (s1_y, s1_means, s1_lengths),
    (s2_y, s2_means, s2_lengths),
    (s2b_y, s2b_means, s2b_lengths),
    (s3_y, s3_means, s3_lengths),
    (s4_y, s4_means, s4_lengths),
    (s5_y, s5_means, s5_lengths),
]

W, H = 1186, 837
fig = plt.figure(figsize=(W / 100, H / 100), dpi=100)
col_px = [(32, 357), (446, 771), (859, 1183)]
row_px = [(24, 379), (451, 805)]

for i in range(6):
    r, c = divmod(i, 3)
    x0, x1 = col_px[c]
    y0, y1 = row_px[r]
    ax = fig.add_axes([x0 / W, 1 - y1 / H, (x1 - x0) / W, (y1 - y0) / H])
    y, means, lengths = series[i]
    y = np.asarray(y, dtype=float)
    x = np.arange(1, len(y) + 1)
    fit = np.repeat(np.asarray(means, dtype=float), lengths)
    xf = np.arange(1, len(fit) + 1)
    ax.plot(x, y, 's', color='black', ms=2.0, mew=0, zorder=2)
    ax.plot(xf, fit, 'o', color='#ff0000', ms=3.9, mew=0, zorder=3)
    N = max(len(y), len(fit))
    ax.set_xlim(1 - 0.04 * (N - 1), N + 0.04 * (N - 1))
    lo = min(y.min(), fit.min())
    hi = max(y.max(), fit.max())
    rg = hi - lo
    ax.set_ylim(lo - 0.04 * rg, hi + 0.04 * rg)
    ax.set_xticks(xtick_sets[i])
    ax.set_xticklabels([str(t) for t in xtick_sets[i]])
    ax.set_yticks(ytick_sets[i])
    ax.set_yticklabels([yfmts[i].format(t).replace('-', '\u2212') for t in ytick_sets[i]],
                       rotation=90, va='center', ha='right')
    ax.tick_params(axis='both', direction='out', length=5.3, width=0.8,
                   labelsize=9.8, colors='black', top=False, right=False)
    ax.tick_params(axis='x', pad=5.5)
    ax.tick_params(axis='y', pad=7.0)
    for sp in ax.spines.values():
        sp.set_linewidth(0.9)
        sp.set_color('black')
    ax.set_title(titles[i], fontsize=12.7, fontweight='bold', pad=7.5)

fig.savefig('out.png', dpi=100)
